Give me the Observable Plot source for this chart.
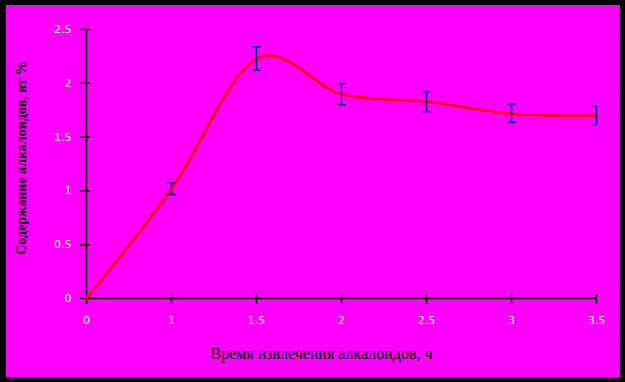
<!DOCTYPE html>
<html><head><meta charset="utf-8">
<script src="https://cdn.jsdelivr.net/npm/d3@7"></script>
<script src="https://cdn.jsdelivr.net/npm/@observablehq/plot@0.6"></script>
<style>
html,body{margin:0;padding:0;background:#000;}
#wrap{position:relative;width:625px;height:382px;background:#000;overflow:hidden;}
#bg{position:absolute;left:6px;top:5px;width:614px;height:372px;background:#ff00ff;}
#chart{position:absolute;left:0;top:0;}
</style></head>
<body>
<div id="wrap"><div id="bg"></div><div id="chart"></div></div>
<script>
const times = ["0", "1", "1.5", "2", "2.5", "3", "3.5"];
const content = [0, 1.02, 2.23, 1.9, 1.83, 1.72, 1.70];
const errors = [null, 0.054, 0.11, 0.098, 0.093, 0.084, 0.088];
const yTicks = [0, 0.5, 1, 1.5, 2, 2.5];
const xTitle = "Время извлечения алкалоидов, ч";
const yTitle = "Содержание алкалоидов, вт %";

const data = times.map((t, i) => ({t, v: content[i], e: errors[i]}));
const errData = data.filter(d => d.e != null);

const capSymbol = {draw(ctx) { ctx.moveTo(-4, 0); ctx.lineTo(4, 0); }};
const tickFont = {fontFamily: "DejaVu Sans, sans-serif", fontSize: 11, fill: "#eeeeee", stroke: "#666", strokeWidth: 0.4};

const plot = Plot.plot({
  width: 625, height: 382,
  marginLeft: 86, marginRight: 29, marginTop: 29, marginBottom: 84,
  style: {background: "transparent", overflow: "visible"},
  x: {type: "point", domain: times, padding: 0, axis: null, label: null},
  y: {domain: [0, 2.5], axis: null, label: null},
  marks: [
    Plot.ruleX([times[0]], {stroke: "#000", strokeWidth: 1.5}),
    Plot.ruleY([0], {stroke: "#000", strokeWidth: 1.5}),
    Plot.axisY(yTicks, {tickSize: 10, dx: 4, tickFormat: () => "", label: null, stroke: "#000", strokeWidth: 1.5}),
    Plot.axisY(yTicks, {tickSize: 0, tickPadding: 15, tickFormat: d => String(d), label: null, ...tickFont}),
    Plot.axisX(times, {tickSize: 10, dy: -4, tickFormat: () => "", label: null, stroke: "#000", strokeWidth: 1.5}),
    Plot.axisX(times, {tickSize: 0, tickPadding: 18, tickFormat: d => d, label: null, ...tickFont}),
    Plot.line(data, {x: "t", y: "v", stroke: "#ff0000", strokeWidth: 2.5, curve: "cardinal", tension: 0}),
    Plot.ruleX(errData, {x: "t", y1: d => d.v - d.e, y2: d => d.v + d.e, stroke: "#000080", strokeWidth: 1.5}),
    Plot.dot(errData, {x: "t", y: d => d.v - d.e, symbol: capSymbol, stroke: "#000080", strokeWidth: 1.5, fill: "none", clip: "frame"}),
    Plot.dot(errData, {x: "t", y: d => d.v + d.e, symbol: capSymbol, stroke: "#000080", strokeWidth: 1.5, fill: "none", clip: "frame"}),
    Plot.text([xTitle], {text: d => d, frameAnchor: "bottom", textAnchor: "middle", dx: -20, dy: 55, lineAnchor: "middle",
      fontFamily: "Liberation Serif, Times New Roman, serif", fontSize: 16, fill: "#000"}),
    Plot.text([yTitle], {text: d => d, frameAnchor: "left", textAnchor: "middle", rotate: -90, dx: -65, dy: -6, lineAnchor: "middle",
      fontFamily: "Liberation Serif, Times New Roman, serif", fontSize: 14, fontWeight: "bold", fill: "#000"})
  ]
});
document.getElementById("chart").appendChild(plot);
</script>
</body></html>
